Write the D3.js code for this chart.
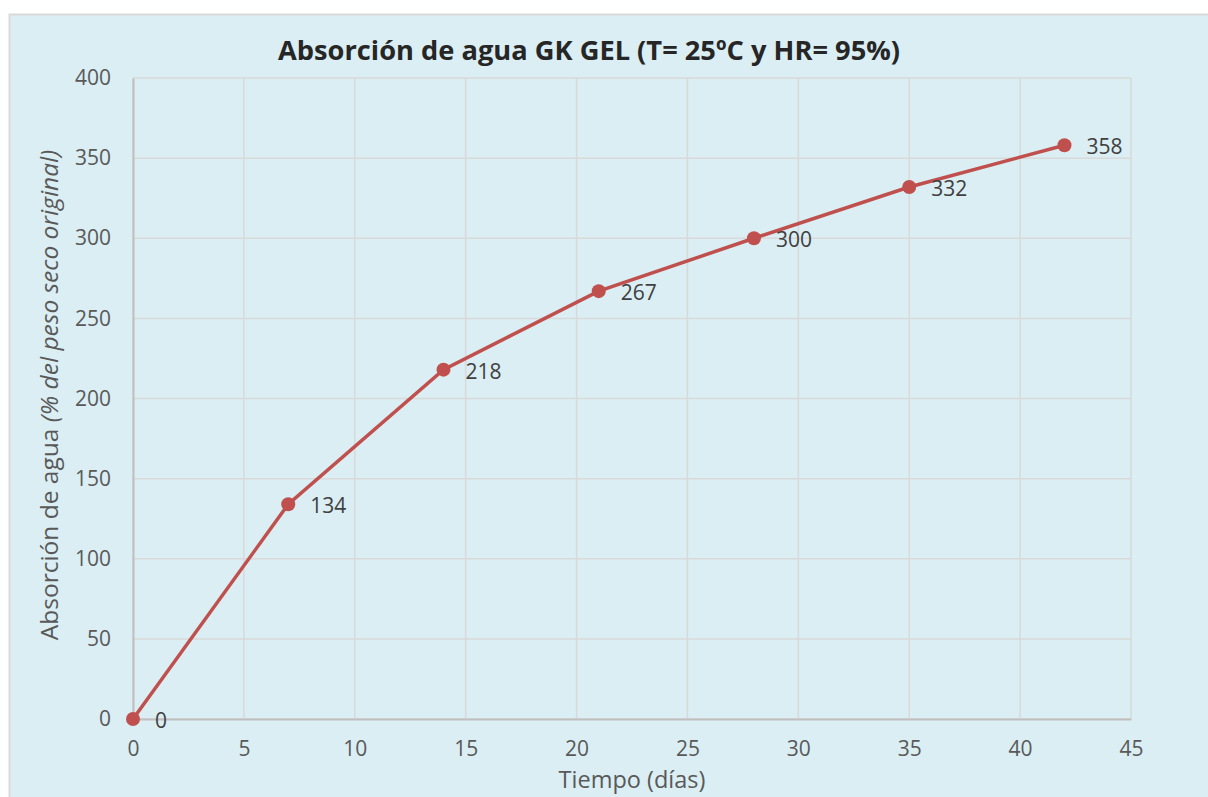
<!DOCTYPE html>
<html lang="es">
<head>
<meta charset="UTF-8">
<title>Absorción de agua GK GEL</title>
<script src="https://d3js.org/d3.v7.min.js"></script>
<style>
  body { margin: 0; background: #fff; }
  text { font-family: "Open Sans", sans-serif; }
</style>
</head>
<body>
<svg id="chart" width="1208" height="797"></svg>
<script>
    // data
    var days = [0, 7, 14, 21, 28, 35, 42];
    var absorption = [0, 134, 218, 267, 300, 332, 358];
    var xTicks = [0, 5, 10, 15, 20, 25, 30, 35, 40, 45];
    var yTicks = [0, 50, 100, 150, 200, 250, 300, 350, 400];

    var points = days.map(function(d, i) { return {x: d, y: absorption[i]}; });

    var margin = {top: 78, left: 133},
        width = 1131 - 133,
        height = 719 - 78;

    var svg = d3.select("#chart");

    // chart area
    svg.append("rect")
        .attr("x", 9.5).attr("y", 14.5)
        .attr("width", 1220).attr("height", 800)
        .attr("fill", "#DAEEF3")
        .attr("stroke", "#D9D9D9")
        .attr("stroke-width", 2);

    var xScale = d3.scaleLinear().domain([0, 45]).range([0, width]);
    var yScale = d3.scaleLinear().domain([0, 400]).range([height, 0]);

    var g = svg.append("g")
        .attr("transform", "translate(" + margin.left + "," + margin.top + ")");

    // gridlines
    g.selectAll(".vgrid").data(xTicks).enter().append("line")
        .attr("x1", d => xScale(d)).attr("x2", d => xScale(d))
        .attr("y1", 0).attr("y2", height)
        .attr("stroke", "#D9D9D9").attr("stroke-width", 1.5);
    g.selectAll(".hgrid").data(yTicks).enter().append("line")
        .attr("x1", 0).attr("x2", width)
        .attr("y1", d => yScale(d)).attr("y2", d => yScale(d))
        .attr("stroke", "#D9D9D9").attr("stroke-width", 1.5);

    // axes
    var x_axis = d3.axisBottom(xScale).tickValues(xTicks).tickSize(0).tickPadding(22);
    var y_axis = d3.axisLeft(yScale).tickValues(yTicks).tickSize(0).tickPadding(22);

    var gx = g.append("g").attr("transform", "translate(0," + height + ")").call(x_axis);
    var gy = g.append("g").call(y_axis);
    [gx, gy].forEach(function(a) {
        a.select(".domain").attr("stroke", "#BFBFBF").attr("stroke-width", 2);
        a.selectAll("text")
            .style("font-family", "'Open Sans', sans-serif")
            .style("font-size", "21px")
            .attr("fill", "#595959");
    });

    // line
    var line = d3.line().x(d => xScale(d.x)).y(d => yScale(d.y));
    g.append("path")
        .datum(points)
        .attr("d", line)
        .attr("fill", "none")
        .attr("stroke", "#C0504D")
        .attr("stroke-width", 3.5);

    g.selectAll(".dot").data(points).enter().append("circle")
        .attr("cx", d => xScale(d.x))
        .attr("cy", d => yScale(d.y))
        .attr("r", 7)
        .attr("fill", "#C0504D");

    // data labels
    g.selectAll(".lbl").data(points).enter().append("text")
        .attr("x", d => xScale(d.x) + 22)
        .attr("y", d => yScale(d.y) + 9)
        .style("font-size", "21px")
        .attr("fill", "#404040")
        .text(d => d.y);

    // title
    svg.append("text")
        .attr("x", 589)
        .attr("y", 60)
        .attr("text-anchor", "middle")
        .style("font-size", "27px")
        .style("font-weight", "bold")
        .attr("fill", "#262626")
        .attr("textLength", 622)
        .attr("lengthAdjust", "spacingAndGlyphs")
        .text("Absorción de agua GK GEL (T= 25ºC y HR= 95%)");

    // axis titles
    svg.append("text")
        .attr("x", 632)
        .attr("y", 788)
        .attr("text-anchor", "middle")
        .style("font-size", "23.5px")
        .attr("fill", "#595959")
        .text("Tiempo (días)");

    var yt = svg.append("text")
        .attr("transform", "translate(58,395) rotate(-90)")
        .attr("text-anchor", "middle")
        .style("font-size", "24.5px")
        .attr("fill", "#595959");
    yt.append("tspan").text("Absorción de agua ");
    yt.append("tspan").style("font-style", "italic").text("(% del peso seco original)");
</script>
</body>
</html>
